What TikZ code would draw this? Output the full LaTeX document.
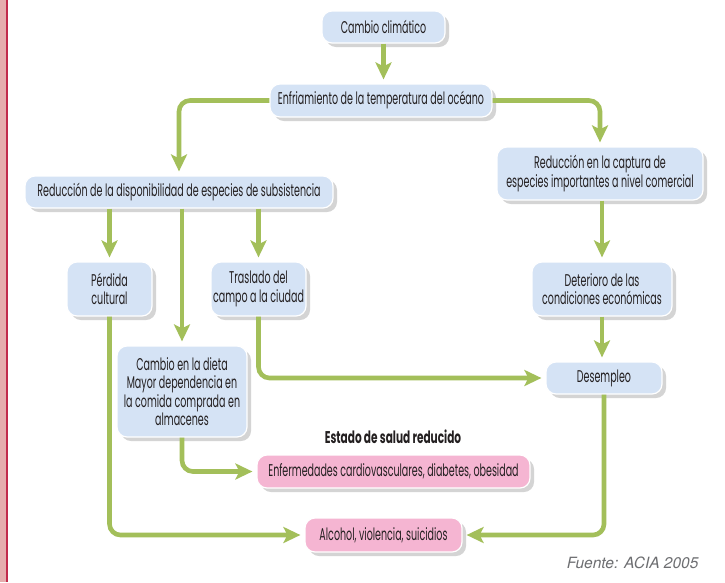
\documentclass[tikz,border=0pt]{standalone}
\usepackage{fontspec}
\setmainfont[FakeStretch=0.56]{Poppins}
\newfontfamily\headfont[FakeStretch=0.62]{Poppins}
\newfontfamily\fuentefont{TeX Gyre Heros}
\usetikzlibrary{arrows.meta,shadows,calc}
\definecolor{boxblue}{HTML}{D5E3F5}
\definecolor{boxpink}{HTML}{F5B5D2}
\definecolor{arrgreen}{HTML}{A3BF5A}
\definecolor{shadowgray}{HTML}{D4D4D4}
\definecolor{strippink}{HTML}{E6ADAE}
\definecolor{stripred}{HTML}{C22A4C}
\definecolor{txt}{HTML}{231F20}
\definecolor{fuentegray}{HTML}{6D6E71}
\tikzset{
  x=1pt, y=-1pt,
  boxbase/.style={rounded corners=10pt, draw=white, line width=1.2pt,
    drop shadow={shadow xshift=4pt, shadow yshift=-4pt, fill=shadowgray, opacity=1},
    align=center, inner sep=0pt, text=txt, font=\fontsize{17}{18.5}\selectfont},
  bluebox/.style={boxbase, fill=boxblue},
  pinkbox/.style={boxbase, fill=boxpink},
  arr/.style={draw=arrgreen, line width=4.6pt, rounded corners=11pt,
    -{Stealth[length=17pt, width=16pt, inset=4pt]}, shorten >=4pt},
}
\begin{document}
\begin{tikzpicture}
\useasboundingbox (0,0) rectangle (725,582);
\fill[white] (0,0) rectangle (725,582);
\fill[strippink] (0,0) rectangle (6,582);
\fill[stripred] (6,0) rectangle (7.6,582);

\node[bluebox, minimum width=123pt, minimum height=32pt] (cc) at (383.5,27) {Cambio climático};
\node[bluebox, minimum width=222pt, minimum height=33pt] (enf) at (381,100.5) {Enfriamiento de la temperatura del océano};
\node[bluebox, minimum width=308pt, minimum height=32pt] (rds) at (179,192) {Reducción de la disponibilidad de especies de subsistencia};
\node[bluebox, minimum width=206pt, minimum height=53pt] (rcap) at (600,173.5) {Reducción en la captura de\\especies importantes a nivel comercial};
\node[bluebox, minimum width=85pt, minimum height=54pt] (perd) at (109.5,289) {Pérdida\\cultural};
\node[bluebox, minimum width=95pt, minimum height=54pt] (tras) at (258.5,289) {Traslado del\\campo a la ciudad};
\node[bluebox, minimum width=130pt, minimum height=91pt] (dieta) at (182,391.5) {Cambio en la dieta\\Mayor dependencia en\\la comida comprada en\\almacenes};
\node[bluebox, minimum width=140pt, minimum height=54pt] (det) at (602,289) {Deterioro de las\\condiciones económicas};
\node[bluebox, minimum width=116pt, minimum height=32pt] (des) at (604,378) {Desempleo};
\node[text=txt, font=\headfont\bfseries\fontsize{17}{18}\selectfont] (estado) at (393,437) {Estado de salud reducido};
\node[pinkbox, minimum width=273pt, minimum height=33pt] (enfm) at (393.5,471.5) {Enfermedades cardiovasculares, diabetes, obesidad};
\node[pinkbox, minimum width=157pt, minimum height=34pt] (alc) at (383.5,535) {Alcohol, violencia, suicidios};
\node[anchor=east, text=fuentegray, font=\fuentefont\itshape\fontsize{15.5}{17}\selectfont] (fuente) at (702,563) {Fuente: ACIA 2005};

\draw[arr] (cc.south) -- (cc.south |- enf.north);
\draw[arr] (enf.west) -| (rds.north);
\draw[arr] (enf.east) -| (rcap.north);
\draw[arr] (perd.north |- rds.south) -- (perd.north);
\draw[arr] (dieta.north |- rds.south) -- (dieta.north);
\draw[arr] (tras.north |- rds.south) -- (tras.north);
\draw[arr] (det.north |- rcap.south) -- (det.north);
\draw[arr] (det.south) -- (det.south |- des.north);
\draw[arr] (tras.south) |- (des.west);
\draw[arr] (dieta.south) |- (enfm.west);
\draw[arr] (perd.south) |- (alc.west);
\draw[arr] (des.south) |- (alc.east);
\end{tikzpicture}
\end{document}
